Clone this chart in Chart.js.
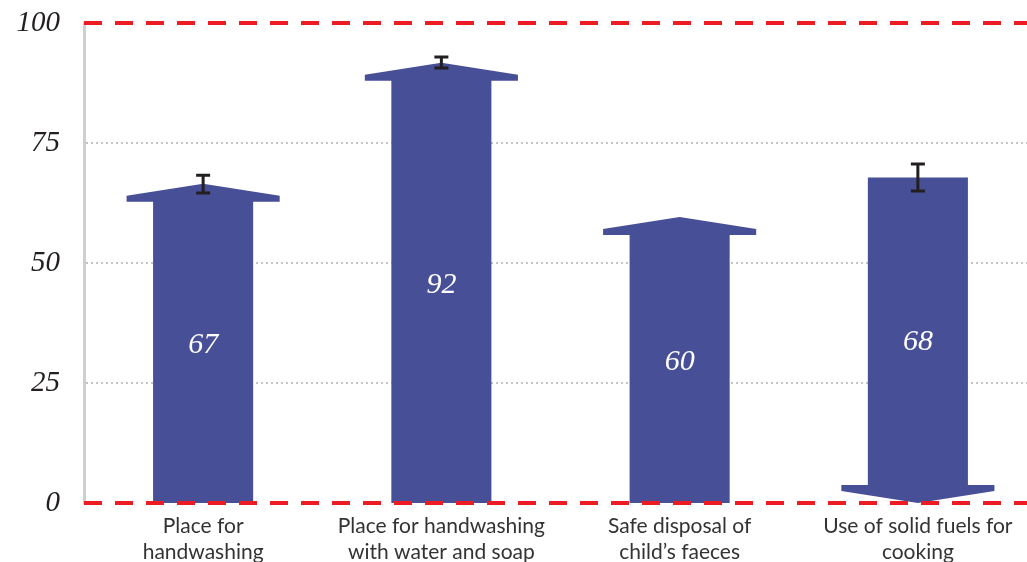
<!DOCTYPE html>
<html>
<head>
<meta charset="utf-8">
<script src="https://cdn.jsdelivr.net/npm/chart.js@4.4.0/dist/chart.umd.min.js"></script>
<style>
  html, body { margin: 0; padding: 0; background: #fff; overflow: hidden; }
  #wrap { position: absolute; left: 0; top: 0; width: 1040px; height: 562px; }
</style>
</head>
<body>
<div id="wrap"><canvas id="chart" width="1040" height="562"></canvas></div>
<script>
// データ
const categories = [
  ["Place for", "handwashing"],
  ["Place for handwashing", "with water and soap"],
  ["Safe disposal of", "child\u2019s faeces"],
  ["Use of solid fuels for", "cooking"],
];
const values = [66.5, 91.7, 59.6, 67.8];
const directions = ["up", "up", "up", "down"];
const errLow = [64.6, 90.6, null, 65.0];
const errHigh = [68.3, 92.9, null, 70.6];
const yTicks = [0, 25, 50, 75, 100];
const limitLines = [0, 100];

const barColor = "#474f96";

// 矢印・数値・赤い破線・エラーバーを描くプラグイン
const arrowPlugin = {
  id: "arrows",
  afterDatasetsDraw(chart) {
    const ctx = chart.ctx;
    const y = chart.scales.y;
    const area = chart.chartArea;
    const meta = chart.getDatasetMeta(0);
    const base = y.getPixelForValue(0);

    meta.data.forEach((el, i) => {
      const cx = el.x;
      const bw = el.width / 2;
      const hw = bw * 1.53;
      const slope = 12;
      const thick = 6;
      const top = y.getPixelForValue(values[i]);
      ctx.save();
      ctx.fillStyle = barColor;
      ctx.beginPath();
      if (directions[i] === "up") {
        const s1 = top + slope;
        const s2 = s1 + thick;
        ctx.moveTo(cx, top);
        ctx.lineTo(cx + hw, s1);
        ctx.lineTo(cx + hw, s2);
        ctx.lineTo(cx + bw, s2);
        ctx.lineTo(cx + bw, base);
        ctx.lineTo(cx - bw, base);
        ctx.lineTo(cx - bw, s2);
        ctx.lineTo(cx - hw, s2);
        ctx.lineTo(cx - hw, s1);
      } else {
        const s2 = base - slope;
        const s1 = s2 - thick;
        ctx.moveTo(cx - bw, top);
        ctx.lineTo(cx + bw, top);
        ctx.lineTo(cx + bw, s1);
        ctx.lineTo(cx + hw, s1);
        ctx.lineTo(cx + hw, s2);
        ctx.lineTo(cx, base);
        ctx.lineTo(cx - hw, s2);
        ctx.lineTo(cx - hw, s1);
        ctx.lineTo(cx - bw, s1);
      }
      ctx.closePath();
      ctx.fill();

      // 棒の中央に数値
      ctx.fillStyle = "#ffffff";
      ctx.font = "italic 30px 'Liberation Serif', serif";
      ctx.textAlign = "center";
      ctx.textBaseline = "middle";
      ctx.fillText(String(Math.round(values[i])), cx, (top + base) / 2 + 2);
      ctx.restore();
    });

    // 0 と 100 の赤い破線
    limitLines.forEach((v) => {
      const py = y.getPixelForValue(v);
      ctx.save();
      ctx.strokeStyle = "#ed1c24";
      ctx.lineWidth = 4;
      ctx.setLineDash([18, 13]);
      ctx.beginPath();
      ctx.moveTo(area.left, py);
      ctx.lineTo(chart.width, py);
      ctx.stroke();
      ctx.restore();
    });

    // エラーバー
    meta.data.forEach((el, i) => {
      if (errLow[i] === null) return;
      const lo = y.getPixelForValue(errLow[i]);
      const hi = y.getPixelForValue(errHigh[i]);
      ctx.save();
      ctx.strokeStyle = "#231f20";
      ctx.lineWidth = 3;
      ctx.beginPath();
      ctx.moveTo(el.x, lo);
      ctx.lineTo(el.x, hi);
      ctx.moveTo(el.x - 7, lo);
      ctx.lineTo(el.x + 7, lo);
      ctx.moveTo(el.x - 7, hi);
      ctx.lineTo(el.x + 7, hi);
      ctx.stroke();
      ctx.restore();
    });
  },
};

new Chart(document.getElementById("chart"), {
  type: "bar",
  data: {
    labels: categories,
    datasets: [
      {
        data: values,
        backgroundColor: "rgba(0,0,0,0)",
        borderWidth: 0,
        barPercentage: 0.42,
        categoryPercentage: 1,
      },
    ],
  },
  options: {
    responsive: false,
    animation: false,
    layout: { padding: { top: 23, right: 3, left: 0, bottom: 0 } },
    plugins: {
      legend: { display: false },
      tooltip: { enabled: false },
    },
    scales: {
      x: {
        afterFit: (s) => {
          s.height = 59;
        },
        grid: { display: false },
        border: { display: false },
        ticks: {
          color: "#333",
          font: { family: "Lato, 'Open Sans', sans-serif", size: 21, lineHeight: 1.2 },
          padding: 3,
          maxRotation: 0,
          autoSkip: false,
        },
      },
      y: {
        min: 0,
        max: 100,
        afterFit: (s) => {
          s.width = 84;
          s.paddingTop = 0;
          s.paddingBottom = 0;
        },
        afterBuildTicks: (s) => {
          s.ticks = yTicks.map((v) => ({ value: v }));
        },
        grid: {
          drawTicks: false,
          lineWidth: 2,
          color: (c) =>
            c.tick && c.tick.value > 0 && c.tick.value < 100 ? "#c4c4c4" : "rgba(0,0,0,0)",
        },
        border: { display: true, color: "#cfcfcf", width: 3, dash: [2, 3] },
        ticks: {
          color: "#231f20",
          padding: 24,
          font: { family: "'Liberation Serif', serif", style: "italic", size: 29 },
        },
      },
    },
  },
  plugins: [arrowPlugin],
});
</script>
</body>
</html>
